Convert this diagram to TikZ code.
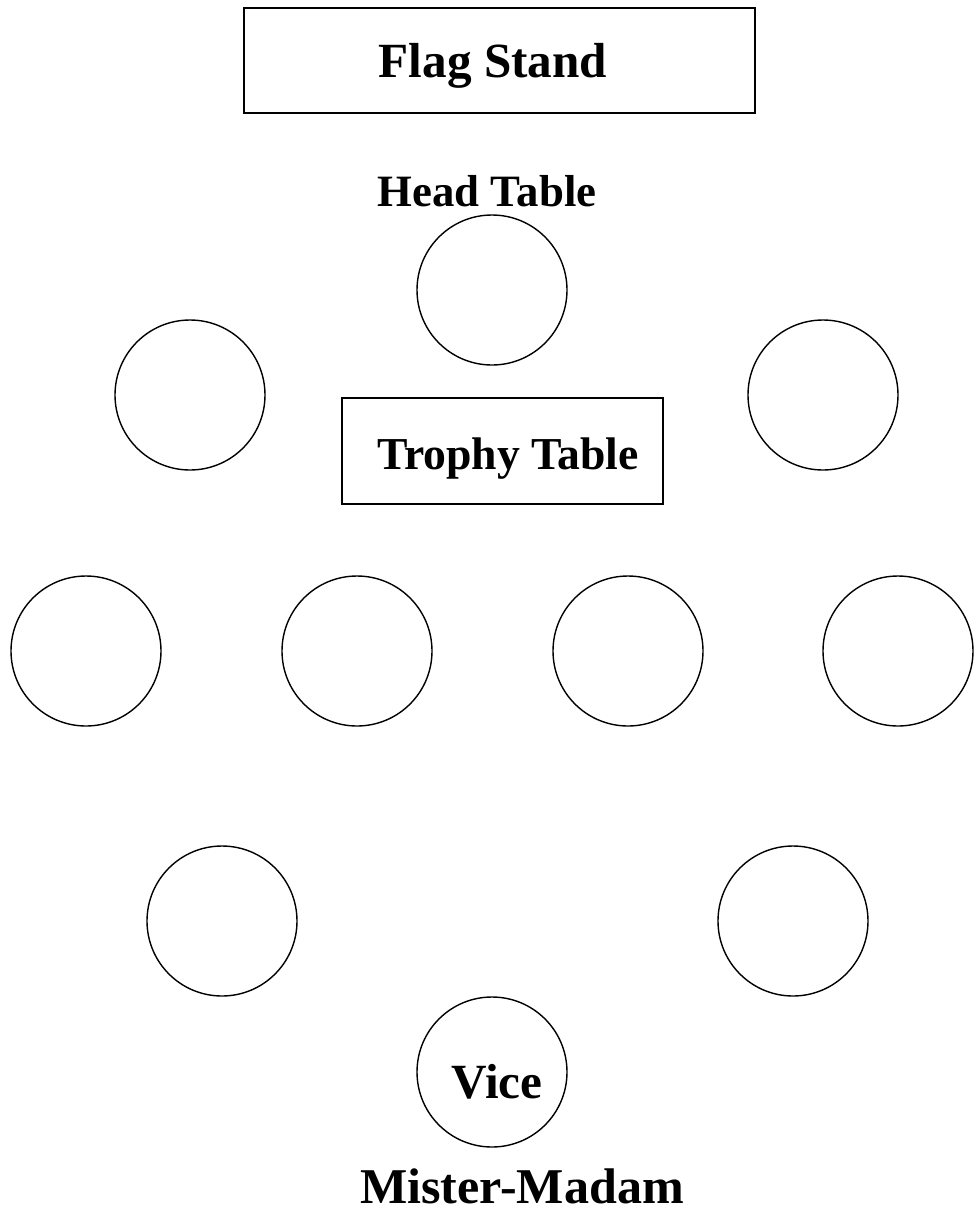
\documentclass[tikz,border=0pt]{standalone}
\usepackage{fontspec}
\setmainfont{Liberation Serif}
\usetikzlibrary{positioning}

\begin{document}
\begin{tikzpicture}[
        x=0.02cm, y=-0.02cm,
        every node/.style={font=\bfseries},
        tbl/.style={circle, draw, line width=0.8pt, minimum size=150*0.02cm, inner sep=0pt},
        box/.style={rectangle, draw, line width=0.8pt, inner sep=0pt},
        lbl/.style={inner sep=0pt},
    ]
    \useasboundingbox (0,0) rectangle (976,1211);
    % flag stand and head table
    \node[box, minimum width=511*0.02cm, minimum height=105*0.02cm] (flag) at (499.5,60.5) {};
    \node[lbl, font=\bfseries\fontsize{28}{30}\selectfont] (flagtxt) at (493,66) {Flag Stand};
    \node[lbl, font=\bfseries\fontsize{25.5}{28}\selectfont] (headtxt) at (487,191) {Head Table};
    \node[tbl] (head) at (492,290) {};
    % trophy table row
    \node[tbl] (t1) at (190,395) {};
    \node[tbl] (t2) at (823,395) {};
    \node[box, minimum width=321*0.02cm, minimum height=106*0.02cm] (trophy) at (502.5,451) {};
    \node[lbl, font=\bfseries\fontsize{26}{28}\selectfont] (trophytxt) at (508,459) {Trophy Table};
    % middle row
    \node[tbl] (t3) at (86,651) {};
    \node[tbl] (t4) at (357,651) {};
    \node[tbl] (t5) at (628,651) {};
    \node[tbl] (t6) at (898,651) {};
    % lower row
    \node[tbl] (t7) at (222,921) {};
    \node[tbl] (t8) at (793,921) {};
    % vice
    \node[tbl] (vice) at (492,1072) {};
    \node[lbl, font=\bfseries\fontsize{28}{30}\selectfont] (vicetxt) at (497,1082) {Vice};
    \node[lbl, font=\bfseries\fontsize{28.5}{30}\selectfont] (mister) at (522,1186) {Mister-Madam};
\end{tikzpicture}
\end{document}
